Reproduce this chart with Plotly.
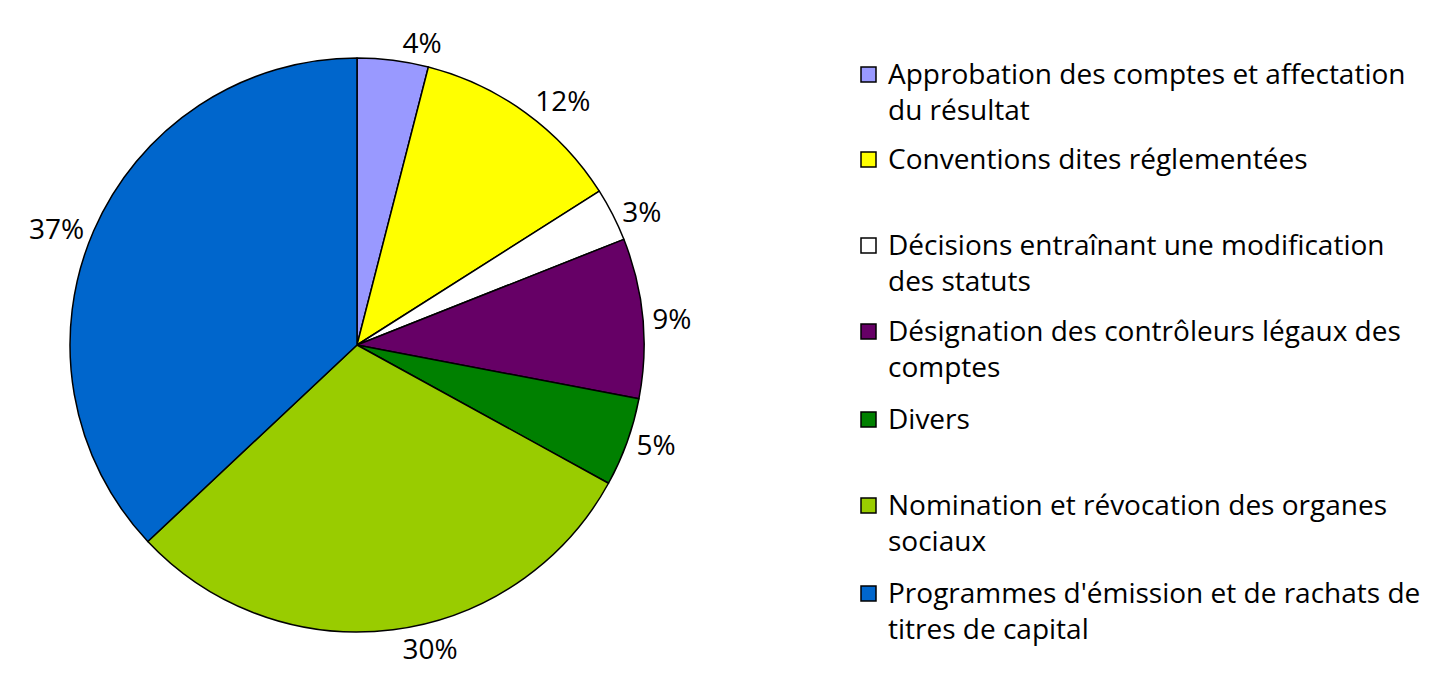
import plotly.graph_objects as go

categories = [
    "Approbation des comptes et affectation<br>du résultat",
    "Conventions dites réglementées",
    "Décisions entraînant une modification<br>des statuts",
    "Désignation des contrôleurs légaux des<br>comptes",
    "Divers",
    "Nomination et révocation des organes<br>sociaux",
    "Programmes d'émission et de rachats de<br>titres de capital",
]
values = [4, 12, 3, 9, 5, 30, 37]
colors = ["#9999FF", "#FFFF00", "#FFFFFF", "#660066", "#008000", "#99CC00", "#0066CC"]

W, H = 1445, 680
FONT = "Open Sans"
FS_PCT = 28
FS_LEG = 28
OFF = 8  # page body margin offset

fig = go.Figure(go.Pie(
    labels=categories, values=values, sort=False, direction="clockwise", rotation=0,
    marker=dict(colors=colors, line=dict(color="black", width=1.5)),
    texttemplate="%{percent:.0%}", textposition="outside",
    textfont=dict(family=FONT, size=FS_PCT, color="black"),
    showlegend=False, hoverinfo="label+percent",
    domain=dict(x=[(70 - OFF) / W, (644 - OFF) / W],
                y=[(H - 632 + OFF) / H, (H - 58 + OFF) / H]),
))

# custom legend (first-line centre y in reference pixels from top)
leg_y = [75, 160, 246, 332, 420, 506, 594]
shapes, annots = [], []
for cat, col, yc in zip(categories, colors, leg_y):
    y = yc - OFF
    shapes.append(dict(type="rect", xref="paper", yref="paper",
                       x0=(861 - OFF) / W, x1=(876 - OFF) / W,
                       y0=(H - y - 7) / H, y1=(H - y + 8) / H,
                       fillcolor=col, line=dict(color="black", width=1.5)))
    annots.append(dict(xref="paper", yref="paper", x=(886 - OFF) / W, y=(H - y + 23) / H,
                       xanchor="left", yanchor="top", align="left", showarrow=False,
                       text=cat, font=dict(family=FONT, size=FS_LEG, color="black")))

fig.update_layout(width=W, height=H,
                  margin=dict(l=0, r=0, t=0, b=0, pad=0, autoexpand=False),
                  paper_bgcolor="white", plot_bgcolor="white",
                  shapes=shapes, annotations=annots)
fig.write_html("out.html")
